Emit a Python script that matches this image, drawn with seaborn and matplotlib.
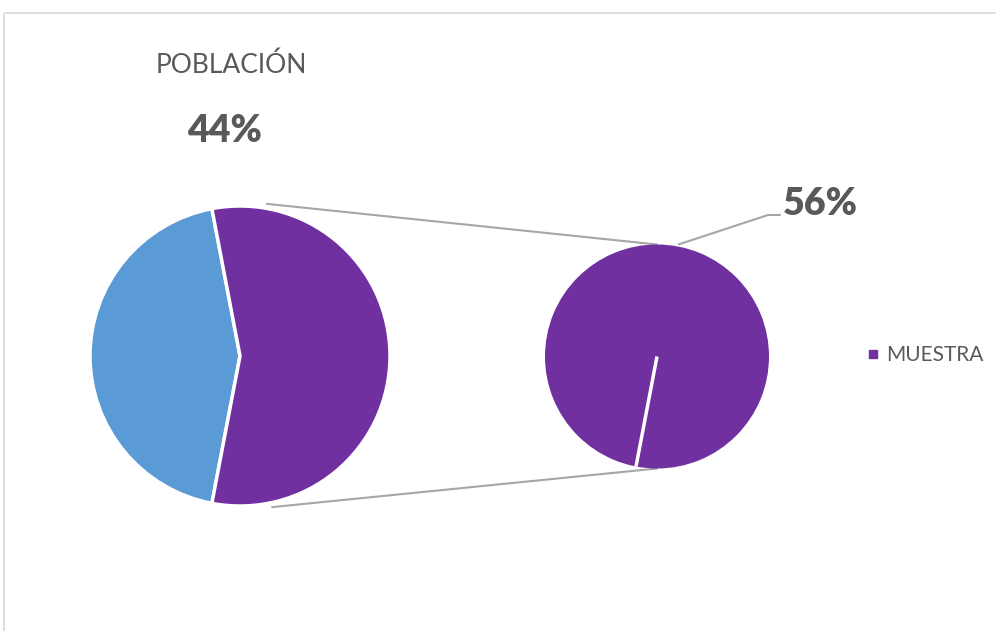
import numpy as np
import matplotlib
matplotlib.use("Agg")
import matplotlib.pyplot as plt
import seaborn as sns
from matplotlib.patches import Rectangle

# ---- data ----
categories = ["POBLACIÓN", "MUESTRA"]
values = [44, 56]            # primary pie (%)
secondary_values = [56]      # secondary pie: the MUESTRA share broken out
secondary_label = "MUESTRA"

colors = ["#5B9BD5", "#7030A0"]
text_gray = "#595959"
line_gray = "#A6A6A6"

sns.set_theme(style="white")
plt.rcParams["font.family"] = ["Lato", "DejaVu Sans"]

W, H = 996, 631
fig = plt.figure(figsize=(W / 100, H / 100), dpi=100)
ax = fig.add_axes([0, 0, 1, 1])
ax.set_xlim(0, W)
ax.set_ylim(0, H)
ax.set_aspect("equal")
ax.axis("off")

def Y(y):
    return H - y

# chart border
ax.add_patch(Rectangle((3.5, Y(12.5)), W + 20, -(H + 20), fill=False,
                       edgecolor="#D9D9D9", linewidth=1.2, zorder=0))

# primary pie
c1 = (240, Y(356)); r1 = 150
start = 180 - 360 * values[0] / sum(values) / 2
ax.pie(values, colors=colors, startangle=start, counterclock=True,
       center=c1, radius=r1, frame=True,
       wedgeprops=dict(edgecolor="white", linewidth=2.5, zorder=3))

# secondary pie
c2 = (657, Y(356.5)); r2 = 112
sec_start = start + 360 * values[0] / sum(values)
ax.pie(secondary_values, colors=[colors[1]], startangle=sec_start,
       center=c2, radius=r2, frame=True,
       wedgeprops=dict(edgecolor="none", linewidth=0, zorder=3))
a = np.deg2rad(sec_start)
ax.plot([c2[0], c2[0] + r2 * np.cos(a)], [c2[1], c2[1] + r2 * np.sin(a)],
        color="white", lw=2.5, zorder=4, solid_capstyle="butt")

# restore limits after pie
ax.set_xlim(0, W)
ax.set_ylim(0, H)
ax.axis("off")

# connector lines (behind pies)
for ang, end in [(80, c2[1] + r2), (-78, c2[1] - r2)]:
    t = np.deg2rad(ang)
    x0 = c1[0] + r1 * 1.03 * np.cos(t)
    y0 = c1[1] + r1 * 1.03 * np.sin(t)
    ax.plot([x0, c2[0]], [y0, end], color=line_gray, lw=1.5, zorder=1)

# labels
ax.text(231, Y(65), categories[0], ha="center", va="center",
        fontsize=19, color=text_gray)
ax.text(225, Y(131), f"{values[0]}%", ha="center", va="center",
        fontsize=27, fontweight="heavy", color=text_gray)

# secondary label with leader
t = np.deg2rad(79)
lx0 = c2[0] + r2 * 1.02 * np.cos(t)
ly0 = c2[1] + r2 * 1.02 * np.sin(t)
ax.plot([lx0, 768, 780], [ly0, Y(215), Y(215)], color=line_gray, lw=1.5, zorder=2)
ax.text(783, Y(204), f"{secondary_values[0]}%", ha="left", va="center",
        fontsize=27, fontweight="heavy", color=text_gray)

# legend
ax.plot([873], [Y(354)], marker="s", markersize=5.8, color=colors[1],
        linestyle="none")
ax.text(886, Y(355), secondary_label, ha="left", va="center",
        fontsize=15, color=text_gray)

fig.savefig("out.png", dpi=100, facecolor="white")
